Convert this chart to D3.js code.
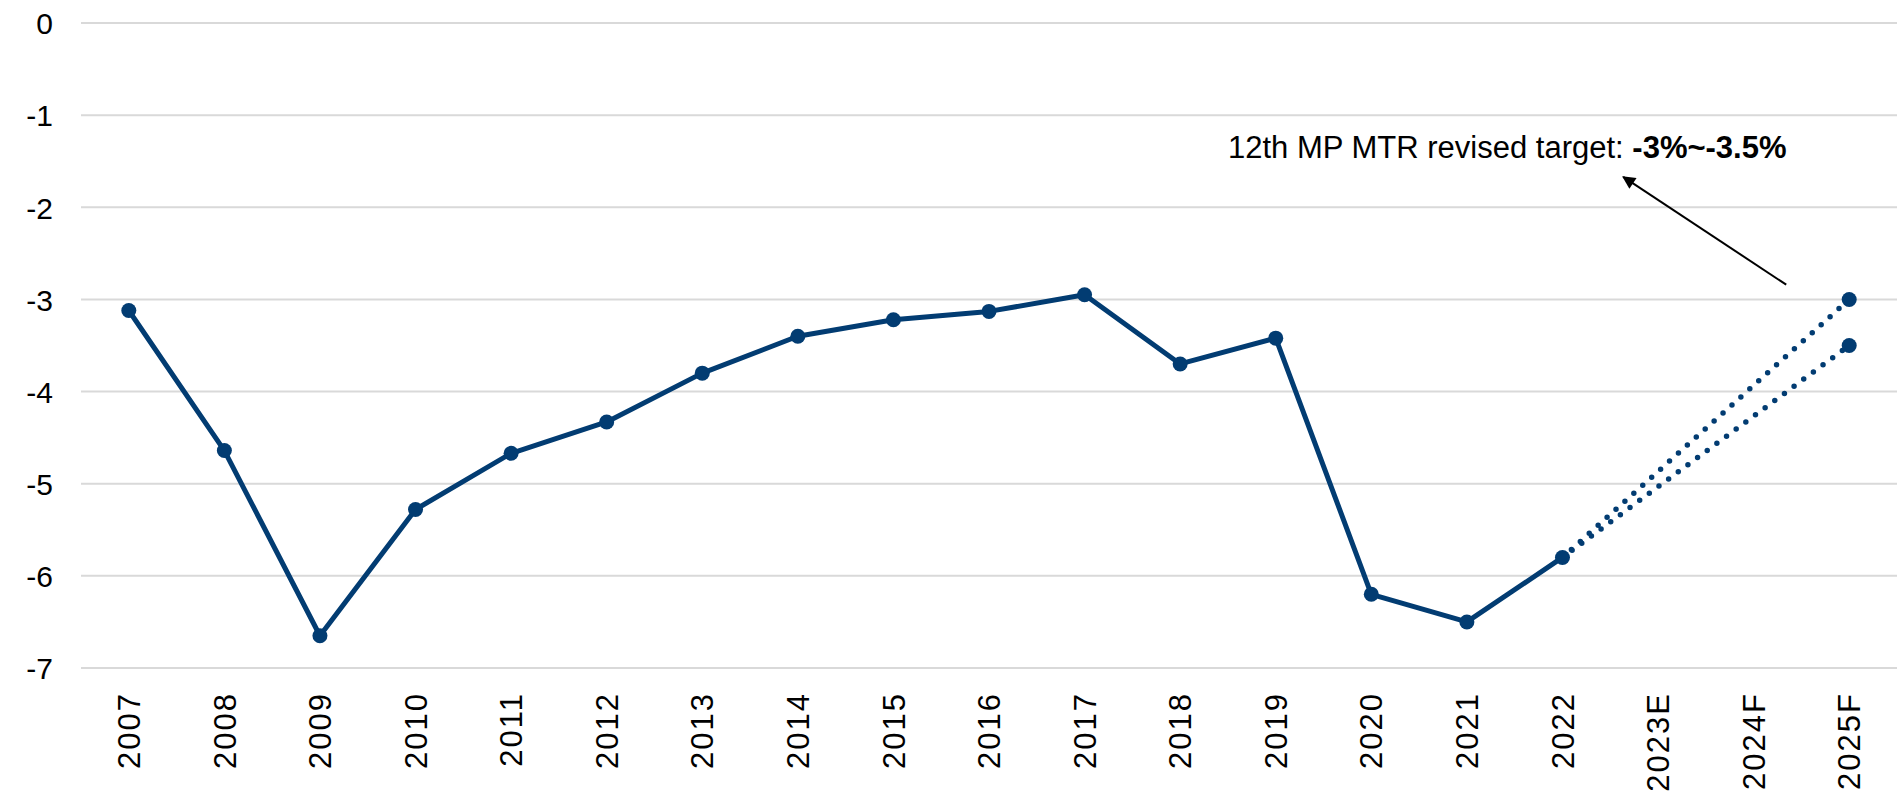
<!DOCTYPE html>
<html>
<head>
<meta charset="utf-8">
<script src="https://cdn.jsdelivr.net/npm/d3@7"></script>
<style>
  body { margin: 0; background: #fff; }
  .canvas svg { display: block; }
  text { font-family: "Liberation Sans", Arial, sans-serif; fill: #000; }
</style>
</head>
<body>
<div class="canvas"></div>
<script>
// categories and values
var years = ["2007", "2008", "2009", "2010", "2011", "2012", "2013", "2014", "2015", "2016",
  "2017", "2018", "2019", "2020", "2021", "2022", "2023E", "2024F", "2025F"];
var balance = [-3.12, -4.64, -6.65, -5.28, -4.67, -4.33, -3.8, -3.4, -3.22, -3.13,
  -2.95, -3.7, -3.42, -6.2, -6.5, -5.8, null, null, null];
var targetHigh = [null, null, null, null, null, null, null, null, null, null,
  null, null, null, null, null, -5.8, null, null, -3.0];
var targetLow = [null, null, null, null, null, null, null, null, null, null,
  null, null, null, null, null, -5.8, null, null, -3.5];
var yTicks = [0, -1, -2, -3, -4, -5, -6, -7];

var width = 1898;
var height = 801;
var plotLeft = 81, plotRight = 1897, plotTop = 23, plotBottom = 668;
var lineColor = "#023c72";

var svg = d3.select(".canvas")
  .append("svg")
  .attr("width", width)
  .attr("height", height);

/* Scales */
var xScale = d3.scaleBand().domain(years).range([plotLeft, plotRight]).padding(0);
var xc = function (k) { return xScale(k) + xScale.bandwidth() / 2; };
var yScale = d3.scaleLinear().domain([-7, 0]).range([plotBottom, plotTop]);

/* Gridlines */
svg.append("g")
  .selectAll("line")
  .data(yTicks)
  .enter()
  .append("line")
  .attr("x1", plotLeft)
  .attr("x2", plotRight)
  .attr("y1", (d) => yScale(d))
  .attr("y2", (d) => yScale(d))
  .style("stroke", "#d9d9d9")
  .style("stroke-width", 2);

/* Y axis */
var yAxis = d3.axisLeft(yScale).tickValues(yTicks).tickSize(0).tickPadding(0).tickFormat((d) => String(d));
var yg = svg.append("g")
  .attr("transform", "translate(53,0)")
  .call(yAxis);
yg.select(".domain").remove();
yg.selectAll("text")
  .style("font-size", "30px")
  .style("font-family", "'Liberation Sans', Arial, sans-serif")
  .attr("dy", "0.36em");

/* X axis */
var xAxis = d3.axisBottom(xScale).tickSize(0).tickPadding(0);
var xg = svg.append("g")
  .attr("transform", `translate(0, ${plotBottom})`)
  .call(xAxis);
xg.select(".domain").remove();
xg.selectAll("text")
  .style("font-size", "31px")
  .style("font-family", "'Liberation Sans', Arial, sans-serif")
  .style("letter-spacing", "2px")
  .attr("transform", "rotate(-90)")
  .attr("text-anchor", "end")
  .attr("x", -24)
  .attr("y", 0)
  .attr("dy", "0.36em");

/* Series */
function points(vals) {
  return years.map((k, i) => ({ key: k, v: vals[i] })).filter((d) => d.v !== null);
}
var line = d3.line()
  .x((d) => xc(d.key))
  .y((d) => yScale(d.v));

[targetHigh, targetLow].forEach(function (vals) {
  svg.append("path")
    .attr("d", line(points(vals)))
    .style("fill", "none")
    .style("stroke", lineColor)
    .style("stroke-width", 5.5)
    .style("stroke-linecap", "round")
    .style("stroke-dasharray", "0 12");
});

svg.append("path")
  .attr("d", line(points(balance)))
  .style("fill", "none")
  .style("stroke", lineColor)
  .style("stroke-width", 5)
  .style("stroke-linejoin", "round");

var allPts = points(balance).concat(points(targetHigh).slice(1), points(targetLow).slice(1));
svg.append("g")
  .selectAll("circle")
  .data(allPts)
  .enter()
  .append("circle")
  .attr("cx", (d) => xc(d.key))
  .attr("cy", (d) => yScale(d.v))
  .attr("r", 7.5)
  .style("fill", lineColor);

/* Annotation */
svg.append("defs")
  .append("marker")
  .attr("id", "arrow")
  .attr("viewBox", "0 0 10 10")
  .attr("refX", 9)
  .attr("refY", 5)
  .attr("markerWidth", 16)
  .attr("markerHeight", 13)
  .attr("markerUnits", "userSpaceOnUse")
  .attr("orient", "auto")
  .append("path")
  .attr("d", "M0,0 L10,5 L0,10 Z")
  .style("fill", "#000");

svg.append("line")
  .attr("x1", xc("2025F") - 63)
  .attr("y1", yScale(-2.84))
  .attr("x2", xc("2025F") - 226)
  .attr("y2", yScale(-1.67))
  .style("stroke", "#000")
  .style("stroke-width", 2)
  .attr("marker-end", "url(#arrow)");

var note = svg.append("text")
  .attr("x", 1228)
  .attr("y", 158)
  .style("font-size", "31px");
note.append("tspan").text("12th MP MTR revised target: ");
note.append("tspan").style("font-weight", "bold").text("-3%~-3.5%");
</script>
</body>
</html>
